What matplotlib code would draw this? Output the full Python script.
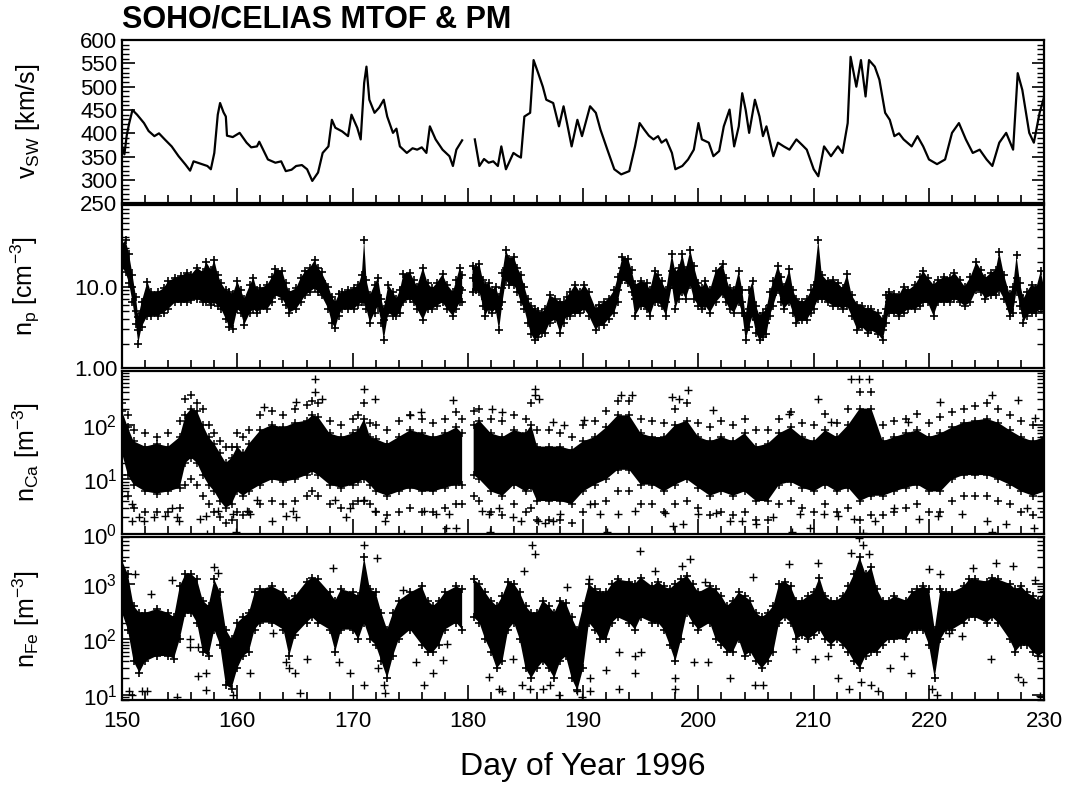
import numpy as np
import matplotlib.pyplot as plt
from matplotlib.ticker import MultipleLocator, LogLocator, FixedLocator, NullFormatter, FuncFormatter

plt.rcParams['font.family'] = ['Liberation Sans', 'DejaVu Sans']
plt.rcParams['mathtext.fontset'] = 'custom'
plt.rcParams['mathtext.rm'] = 'Liberation Sans'
plt.rcParams['mathtext.it'] = 'Liberation Sans'

nan = np.nan

# --- solar wind speed (km/s)
vsw_day = [150.0, 150.2, 150.4, 150.6, 150.9, 151.3, 151.9, 152.3, 152.8, 153.2,
           153.7, 154.3, 154.9, 155.5, 155.9, 156.2, 156.8, 157.4, 157.7, 158.0,
           158.3, 158.5, 158.8, 159.0, 159.1, 159.6, 160.2, 160.8, 161.2, 161.7,
           161.9, 162.65, 163.3, 163.8, 164.2, 164.7, 165.1, 165.6, 166.05, 166.5,
           167.0, 167.4, 167.9, 168.2, 168.5, 169.1, 169.6, 169.9, 170.4, 170.7,
           171.0, 171.2, 171.45, 171.9, 172.3, 172.7, 173.0, 173.5, 173.8, 174.1,
           174.7, 175.2, 175.6, 176.0, 176.4, 176.7, 177.2, 177.8, 178.4, 178.7,
           179.0, 179.5, 180.0, 180.6, 181.0, 181.4, 181.8, 182.2, 182.6, 182.9,
           183.3, 183.95, 184.3, 184.6, 184.9, 185.4, 185.7, 186.1, 186.5, 186.8,
           187.4, 187.9, 188.3, 188.6, 189.0, 189.5, 189.9, 190.6, 191.1, 191.5,
           192.1, 192.7, 193.3, 194.0, 194.5, 194.9, 195.3, 195.7, 196.1, 196.5,
           196.8, 197.2, 197.7, 198.0, 198.6, 199.1, 199.6, 200.0, 200.3, 200.9,
           201.3, 201.8, 202.2, 202.7, 203.1, 203.5, 203.8, 204.1, 204.4, 204.9,
           205.3, 205.6, 205.9, 206.5, 206.9, 207.4, 207.9, 208.5, 209.0, 209.4,
           210.0, 210.4, 210.9, 211.5, 212.1, 212.5, 212.95, 213.2, 213.7, 214.1,
           214.5, 214.8, 215.3, 215.7, 216.2, 216.6, 217.0, 217.4, 217.8, 218.5,
           219.0, 219.5, 220.0, 220.7, 221.4, 222.0, 222.6, 223.2, 223.8, 224.4,
           225.0, 225.5, 226.1, 226.7, 227.3, 227.7, 228.1, 228.7, 229.1, 229.6,
           230.0]
vsw = [372, 355, 395, 420, 450, 440, 422, 405, 394, 400,
       387, 372, 351, 333, 320, 340, 335, 330, 323, 358,
       440, 465, 445, 436, 395, 392, 401, 380, 370, 372,
       382, 344, 337, 340, 319, 322, 330, 332, 323, 298,
       316, 358, 372, 429, 412, 404, 394, 440, 412, 387,
       508, 543, 472, 444, 455, 472, 436, 401, 410, 372,
       358, 368, 365, 370, 358, 415, 387, 365, 351, 330,
       365, 385, nan, 387, 330, 345, 337, 340, 330, 372,
       323, 358, 352, 348, 436, 444, 557, 529, 500, 472,
       465, 415, 458, 422, 372, 429, 394, 458, 444, 408,
       365, 323, 312, 319, 372, 422, 408, 395, 387, 394,
       380, 387, 358, 323, 330, 344, 365, 422, 387, 380,
       351, 362, 415, 451, 372, 415, 486, 450, 401, 472,
       436, 394, 415, 351, 380, 372, 365, 387, 375, 365,
       323, 308, 372, 351, 372, 358, 422, 564, 500, 557,
       479, 557, 543, 515, 444, 429, 394, 400, 387, 372,
       394, 372, 344, 334, 344, 401, 422, 387, 358, 365,
       344, 330, 380, 401, 365, 529, 493, 401, 380, 444,
       479]

# --- proton density (cm^-3): low edge, middle, high edge of the band
np_day = [150.0, 150.3, 150.6, 150.9, 151.2, 151.4, 151.7, 152.2, 152.5, 153.1,
          153.6, 154.0, 154.6, 155.1, 155.6, 156.0, 156.5, 157.0, 157.3, 157.7,
          158.0, 158.3, 158.6, 159.0, 159.3, 159.6, 160.0, 160.3, 160.6, 161.1,
          161.4, 161.7, 162.0, 162.6, 163.0, 163.3, 163.9, 164.2, 164.5, 165.1,
          165.5, 165.9, 166.3, 166.7, 167.0, 167.3, 167.9, 168.2, 168.5, 168.8,
          169.1, 169.6, 170.1, 170.5, 170.8, 171.0, 171.2, 171.5, 171.9, 172.2,
          172.5, 172.7, 173.1, 173.5, 173.8, 174.1, 174.4, 175.0, 175.3, 175.6,
          176.1, 176.5, 176.9, 177.3, 177.8, 178.2, 178.7, 179.0, 179.3, 179.5,
          180.0, 180.4, 180.7, 181.0, 181.3, 181.5, 181.8, 182.1, 182.4, 182.7,
          183.0, 183.3, 183.6, 184.0, 184.3, 184.6, 184.9, 185.2, 185.5, 185.8,
          186.1, 186.4, 186.7, 187.1, 187.6, 188.0, 188.3, 188.6, 188.9, 189.3,
          189.7, 190.1, 190.5, 191.1, 191.4, 191.8, 192.2, 192.7, 193.0, 193.4,
          193.9, 194.2, 194.5, 195.0, 195.5, 195.8, 196.2, 196.5, 196.8, 197.2,
          197.7, 198.0, 198.3, 198.6, 198.9, 199.3, 199.6, 200.0, 200.3, 200.6,
          201.0, 201.5, 202.1, 202.4, 202.7, 203.1, 203.5, 203.8, 204.1, 204.4,
          204.7, 205.0, 205.3, 205.6, 205.9, 206.2, 206.5, 206.9, 207.2, 207.4,
          207.9, 208.2, 208.5, 209.0, 209.4, 209.8, 210.0, 210.4, 210.7, 211.2,
          211.7, 212.1, 212.5, 212.9, 213.3, 213.8, 214.2, 214.7, 215.0, 215.6,
          216.0, 216.3, 216.5, 217.0, 217.4, 217.8, 218.2, 218.8, 219.2, 219.5,
          219.9, 220.4, 220.8, 221.3, 221.8, 222.2, 222.7, 223.1, 223.6, 224.1,
          224.5, 224.9, 225.4, 225.8, 226.1, 226.5, 227.0, 227.3, 227.6, 227.9,
          228.2, 228.5, 228.9, 229.3, 229.7, 230.0]
np_lo = [17, 15, 11, 6.5, 3.5, 2.0, 3.2, 4.4, 4.4, 4.35,
         4.8, 5.3, 6.4, 6.4, 6.4, 6.8, 7.1, 6.4, 6.4, 6.0,
         6.4, 5.8, 5.3, 4.0, 3.2, 3.0, 5.3, 4.8, 3.4, 4.8,
         5.3, 4.8, 5.3, 5.3, 6.4, 7.8, 7.1, 6.0, 4.8, 5.3,
         6.4, 7.8, 8.6, 9.5, 8.6, 7.8, 5.3, 3.6, 3.1, 4.4,
         5.3, 5.3, 5.3, 6.0, 6.4, 6.4, 5.3, 3.6, 4.8, 5.8,
         3.6, 2.2, 4.8, 4.35, 4.35, 4.8, 6.4, 7.1, 6.4, 5.3,
         3.9, 5.3, 5.3, 5.8, 6.4, 5.3, 4.35, 5.3, 6.4, 6.4,
         nan, 8.6, 9.0, 8.6, 5.8, 4.35, 5.3, 4.8, 5.3, 2.9,
         6.4, 12.0, 10.5, 10.5, 8.6, 6.4, 5.3, 3.6, 2.6, 2.2,
         2.4, 2.7, 2.7, 3.6, 4.0, 2.7, 3.6, 4.4, 4.4, 4.8,
         4.8, 5.3, 4.4, 2.9, 3.4, 3.4, 4.0, 4.8, 6.4, 12.0,
         11.0, 8.6, 4.35, 5.8, 5.3, 4.4, 6.4, 6.4, 5.8, 4.35,
         10.5, 5.3, 7.1, 8.6, 7.1, 10.5, 7.1, 5.8, 5.3, 5.8,
         4.8, 6.4, 8.0, 6.4, 5.3, 4.8, 6.4, 4.8, 2.2, 3.2,
         4.4, 2.7, 2.2, 2.4, 2.6, 4.4, 5.8, 9.0, 6.4, 5.3,
         6.4, 4.8, 3.6, 3.9, 3.9, 4.8, 5.3, 7.1, 7.1, 6.4,
         5.8, 5.8, 5.3, 5.8, 4.35, 2.9, 3.2, 2.7, 2.9, 2.6,
         2.2, 3.6, 4.8, 4.8, 4.35, 4.8, 5.3, 5.3, 5.8, 6.4,
         6.4, 4.35, 6.4, 6.4, 6.4, 7.1, 6.4, 5.8, 6.4, 9.0,
         8.6, 7.1, 7.8, 7.8, 9.0, 7.1, 4.35, 4.8, 9.0, 5.8,
         3.6, 4.4, 4.8, 4.8, 5.3, 4.8]
np_mid = [23, 22, 16, 10, 5.0, 2.9, 4.8, 6.4, 6.2, 6.4,
          7.0, 7.8, 8.6, 9.0, 9.5, 10.0, 10.5, 10.0, 10.5, 9.5,
          10.5, 8.5, 7.8, 6.0, 5.8, 5.3, 7.1, 6.4, 5.3, 7.1,
          7.8, 6.4, 7.1, 7.8, 9.0, 11.6, 10.5, 8.0, 6.4, 7.1,
          9.0, 11.6, 12.0, 14.1, 12.8, 11.6, 7.8, 5.3, 4.8, 6.0,
          6.4, 7.1, 7.1, 7.8, 8.6, 9.0, 7.8, 5.8, 7.1, 7.8,
          5.0, 3.9, 6.4, 6.0, 5.3, 6.4, 9.5, 10.5, 9.0, 7.1,
          9.5, 7.8, 7.1, 8.0, 8.6, 7.8, 6.4, 7.8, 9.5, 9.0,
          nan, 12.8, 12.0, 12.8, 8.6, 7.1, 8.0, 6.4, 7.1, 5.3,
          9.5, 17.1, 15, 15.5, 12.0, 10.5, 7.1, 5.3, 4.0, 3.9,
          3.6, 3.4, 3.6, 5.3, 5.3, 3.9, 4.8, 5.8, 5.8, 6.4,
          6.4, 7.1, 6.0, 3.9, 4.5, 4.35, 5.3, 6.4, 9.0, 17.1,
          15.5, 11.6, 7.1, 8.6, 7.8, 6.4, 9.5, 9.0, 8.6, 6.4,
          15.5, 9.5, 11.0, 14.1, 11.0, 17.1, 11.6, 7.8, 7.1, 7.8,
          6.4, 9.5, 11.6, 9.0, 7.1, 6.4, 8.6, 6.4, 2.9, 5.3,
          6.4, 3.9, 3.2, 3.4, 3.6, 6.0, 7.8, 11.6, 9.0, 7.1,
          8.6, 6.4, 5.3, 5.0, 5.3, 6.4, 7.1, 10.5, 9.5, 8.6,
          8.0, 7.8, 7.1, 7.8, 5.8, 4.35, 4.35, 3.6, 3.9, 3.4,
          2.9, 5.3, 6.4, 6.0, 5.3, 6.4, 6.4, 7.8, 8.6, 9.5,
          9.0, 7.8, 8.6, 9.5, 9.0, 9.5, 8.6, 7.1, 8.6, 12.8,
          11.6, 9.5, 10.5, 11.0, 12.8, 10.0, 5.3, 6.4, 12.8, 7.8,
          4.8, 5.8, 7.1, 6.4, 7.8, 6.4]
np_hi = [33, 37, 25, 14, 7.5, 4.2, 6.5, 11.5, 8.5, 8.6,
         9.5, 11.6, 12.8, 13.5, 14.8, 14.0, 17, 15, 20, 16,
         21, 14, 11, 9.0, 8.6, 8.0, 11.6, 9.0, 7.1, 10.5,
         12.8, 9.0, 9.5, 10.5, 13, 16.3, 15.5, 11, 8.6, 9.5,
         12.8, 15.5, 17, 20.9, 17, 15, 10, 7.5, 6.4, 8,
         8.6, 9.0, 9.5, 10.5, 14, 37.5, 12, 7.8, 10.5, 12.8,
         7.0, 5.3, 10.5, 8.6, 7.1, 9, 14.1, 14.8, 12, 10,
         17.1, 11, 9.5, 11, 14.1, 10.5, 8.6, 12, 17.1, 14,
         nan, 18, 17, 18.9, 12, 10.5, 11, 9.0, 10, 7.5,
         14.8, 27.9, 22, 23, 17, 14, 10, 7.1, 5.8, 5.3,
         5.0, 4.8, 5.3, 7.8, 7.1, 6.4, 6.4, 7.5, 8.6, 10.5,
         8.6, 10.5, 8.6, 5.3, 6.0, 6.4, 7.1, 9.0, 13, 23,
         22, 16, 10.5, 11.6, 11, 9.0, 15.5, 14, 11.6, 9.0,
         25, 15, 17, 25, 16, 28, 18, 11, 9.5, 11.6,
         9.0, 15.5, 18.9, 12.8, 9.5, 9.0, 15.5, 9.0, 4.35, 9.0,
         11.6, 5.8, 4.4, 4.8, 5.3, 8.6, 11.6, 18, 13, 10,
         16.3, 9.0, 7.1, 6.4, 7.1, 9.0, 10.5, 37.5, 14, 11.6,
         12, 11, 9.5, 14.1, 7.8, 6.0, 5.8, 5.3, 5.3, 4.8,
         4.0, 7.8, 8.6, 8.0, 7.8, 10, 9.0, 10.5, 13, 15.5,
         12.8, 10.5, 12, 13, 12.8, 14.8, 12, 10, 13, 19.9,
         16, 12.8, 14.8, 16, 26.6, 14, 8.0, 10, 24, 11,
         7.1, 8.6, 10.5, 9.5, 15.5, 9.5]

# --- Ca density (m^-3): dense core, sparser upper/lower scatter, isolated points
ca_day = [150.0, 150.5, 151.0, 152.0, 153.0, 154.0, 155.0, 155.5, 156.0, 156.5,
          157.0, 157.5, 158.0, 158.5, 159.0, 159.5, 160.0, 160.5, 161.0, 162.0,
          163.0, 164.0, 165.0, 166.0, 166.5, 167.0, 168.0, 169.0, 170.0, 170.5,
          171.0, 171.5, 172.0, 173.0, 174.0, 175.0, 176.0, 177.0, 178.0, 179.0,
          179.5, 180.0, 180.5, 181.0, 182.0, 183.0, 184.0, 185.0, 185.5, 186.0,
          187.0, 188.0, 189.0, 190.0, 191.0, 192.0, 193.0, 194.0, 195.0, 196.0,
          197.0, 198.0, 199.0, 200.0, 201.0, 202.0, 203.0, 204.0, 205.0, 206.0,
          207.0, 208.0, 209.0, 210.0, 211.0, 212.0, 213.0, 214.0, 215.0, 216.0,
          217.0, 218.0, 219.0, 220.0, 221.0, 222.0, 223.0, 224.0, 225.0, 226.0,
          227.0, 228.0, 229.0, 230.0]
ca_lo = [30, 12, 8, 6, 5.5, 6, 7, 20, 25, 20,
         12, 8, 6, 4, 3, 3.5, 6, 5, 6, 8,
         10, 9, 10, 12, 14, 12, 8, 7, 8, 9,
         10, 8, 6, 5, 6, 7, 6, 6, 7, 8,
         8, nan, 12, 10, 6, 5, 8, 6, 7, 4,
         4, 4, 3.5, 6, 8, 10, 15, 15, 8, 8,
         6, 8, 10, 7, 5, 6, 5, 6, 4, 4,
         8, 9, 7, 6, 8, 6, 7, 4, 5, 5,
         6, 7, 8, 6, 6, 10, 12, 12, 12, 10,
         8, 6, 5, 6]
ca_hi = [180, 90, 50, 40, 45, 40, 60, 150, 200, 180,
         100, 60, 45, 30, 20, 25, 40, 30, 45, 80,
         100, 90, 110, 120, 150, 140, 70, 60, 70, 80,
         130, 60, 55, 45, 60, 80, 70, 60, 70, 90,
         70, nan, 100, 120, 70, 60, 80, 70, 100, 40,
         40, 40, 35, 50, 60, 90, 150, 150, 70, 60,
         60, 100, 120, 60, 50, 60, 50, 70, 40, 45,
         70, 90, 60, 50, 80, 60, 100, 200, 200, 50,
         60, 70, 80, 60, 70, 90, 110, 120, 130, 110,
         80, 60, 50, 60]
ca_up = [250, 150, 80, 70, 60, 70, 120, 300, 350, 250,
         200, 100, 70, 50, 40, 40, 70, 60, 80, 150,
         180, 150, 200, 230, 280, 250, 120, 100, 130, 150,
         250, 110, 100, 80, 120, 150, 130, 110, 130, 170,
         130, nan, 180, 200, 130, 120, 150, 130, 250, 80,
         80, 70, 60, 100, 120, 180, 280, 280, 130, 120,
         110, 200, 250, 110, 90, 120, 100, 130, 80, 80,
         130, 170, 110, 100, 160, 110, 200, 400, 400, 100,
         120, 130, 160, 110, 140, 170, 200, 220, 250, 200,
         150, 120, 100, 120]
ca_dn = [12, 5, 3, 2.5, 2.5, 2.5, 3, 8, 10, 8,
         5, 3.5, 2.5, 2, 1.6, 1.8, 2.5, 2.2, 2.5, 3.5,
         4, 3.5, 4, 5, 6, 5, 3.5, 3, 3.5, 4,
         4, 3.5, 2.5, 2.2, 2.5, 3, 2.5, 2.5, 3, 3.5,
         3.5, nan, 5, 4, 2.5, 2.2, 3.5, 2.5, 3, 1.8,
         1.8, 1.8, 1.6, 2.5, 3.5, 4, 6, 6, 3.5, 3.5,
         2.5, 3.5, 4, 3, 2.2, 2.5, 2.2, 2.5, 1.8, 1.8,
         3.5, 4, 3, 2.5, 3.5, 2.5, 3, 1.8, 2.2, 2.2,
         2.5, 3, 3.5, 2.5, 2.5, 4, 5, 5, 5, 4,
         3.5, 2.5, 2.2, 2.5]
ca_out_day = [150.9, 151.5, 150.9, 151.9, 152.8, 153.7, 154.8, 154.9, 154.3, 156.8,
              157.3, 157.4, 158.3, 159.6, 159.9, 160.8, 161.1, 161.7, 163.0, 164.2,
              165.1, 164.8, 162.3, 165.1, 166.7, 166.7, 167.3, 168.5, 169.4, 169.8,
              171.0, 171.9, 171.0, 171.9, 172.8, 174.5, 175.0, 175.9, 176.2, 177.2,
              178.1, 178.7, 179.0, 178.4, 181.2, 181.8, 181.9, 182.1, 183.0, 184.6,
              183.9, 185.8, 185.8, 186.1, 182.7, 186.2, 187.4, 188.3, 190.1, 193.3,
              194.2, 197.7, 199.1, 198.3, 201.3, 207.9, 210.4, 211.5, 213.2, 213.9,
              214.8, 218.2, 221.0, 225.5, 227.7, 229.2, 186.7, 187.4, 188.0, 190.6,
              191.5, 192.1, 193.0, 194.5, 197.1, 197.8, 198.7, 200.0, 201.5, 202.7,
              203.8, 205.0, 206.5, 208.1, 208.8, 209.7, 210.9, 212.1, 213.5, 214.3,
              215.3, 217.0, 219.1, 220.8, 222.9, 225.0, 225.5, 226.7, 228.5, 229.1]
ca_out = [3.5, 2.0, 1.7, 1.7, 2.0, 2.1, 2.0, 1.7, 3.0, 1.9,
          2.1, 1.0, 2.6, 2.3, 1.1, 2.6, 2.3, 4.1, 1.7, 2.1,
          2.0, 2.6, 215, 265, 700, 400, 305, 4.1, 2.0, 3.0,
          465, 305, 4.1, 2.6, 1.7, 1.0, 150, 175, 2.6, 2.3,
          1.3, 285, 1.3, 2.3, 2.6, 2.3, 1.1, 200, 175, 1.7,
          2.0, 465, 350, 1.7, 3.0, 305, 115, 100, 125, 350,
          350, 330, 430, 305, 190, 160, 305, 115, 700, 700,
          700, 115, 265, 350, 285, 132, 1.6, 1.7, 2.3, 3.5,
          2.3, 1.1, 2.3, 2.6, 2.4, 1.4, 1.5, 2.3, 2.4, 1.7,
          1.7, 1.5, 2.0, 1.1, 2.3, 1.3, 2.3, 2.1, 1.9, 1.05,
          1.7, 3.0, 1.9, 2.1, 2.3, 1.7, 1.1, 1.5, 3.0, 1.3]

# --- Fe density (m^-3): dense core of the scatter, plus isolated points
fe_day = [150.0, 150.5, 151.0, 151.5, 152.0, 153.0, 154.0, 154.5, 155.0, 155.5,
          156.0, 156.5, 157.0, 157.5, 158.0, 158.5, 159.0, 159.5, 160.0, 160.5,
          161.0, 161.5, 162.0, 163.0, 164.0, 164.5, 165.0, 166.0, 166.5, 167.0,
          168.0, 168.5, 169.0, 170.0, 170.5, 171.0, 171.5, 172.0, 172.5, 173.0,
          173.5, 174.0, 175.0, 176.0, 176.5, 177.0, 177.5, 178.0, 179.0, 179.5,
          180.0, 180.5, 181.0, 181.5, 182.0, 182.5, 183.0, 183.5, 184.0, 184.5,
          185.0, 185.5, 186.0, 186.5, 187.0, 187.5, 188.0, 188.5, 189.0, 189.5,
          190.0, 190.5, 191.0, 191.5, 192.0, 192.5, 193.0, 194.0, 194.5, 195.0,
          196.0, 196.5, 197.0, 197.5, 198.0, 198.5, 199.0, 199.5, 200.0, 201.0,
          201.5, 202.0, 202.5, 203.0, 203.5, 204.0, 204.5, 205.0, 205.5, 206.0,
          206.5, 207.0, 207.5, 208.0, 208.5, 209.0, 209.5, 210.0, 210.5, 211.0,
          211.5, 212.0, 212.5, 213.0, 213.5, 214.0, 214.5, 215.0, 215.5, 216.0,
          216.5, 217.0, 218.0, 218.5, 219.0, 219.5, 220.0, 220.5, 221.0, 221.5,
          222.0, 223.0, 223.5, 224.0, 225.0, 225.5, 226.0, 227.0, 227.5, 228.0,
          228.5, 229.0, 229.5, 230.0]
fe_lo = [300, 150, 40, 25, 40, 50, 50, 45, 100, 300,
         300, 200, 60, 50, 150, 80, 15, 13, 30, 50,
         60, 150, 200, 200, 150, 50, 120, 200, 250, 200,
         150, 60, 150, 150, 100, 200, 100, 80, 40, 20,
         50, 100, 150, 80, 60, 60, 80, 150, 200, 150,
         nan, 250, 200, 100, 60, 30, 40, 150, 200, 100,
         30, 20, 30, 40, 30, 20, 40, 50, 20, 12,
         30, 200, 150, 100, 100, 200, 250, 200, 150, 250,
         200, 200, 150, 80, 40, 100, 300, 200, 150, 200,
         100, 80, 60, 60, 100, 50, 60, 40, 30, 40,
         60, 200, 250, 200, 100, 120, 100, 120, 150, 100,
         80, 100, 80, 60, 40, 30, 50, 60, 60, 80,
         100, 100, 100, 150, 150, 150, 80, 20, 100, 150,
         150, 200, 250, 250, 200, 250, 200, 100, 60, 80,
         80, 60, 50, 60]
fe_hi = [2600, 1500, 400, 300, 300, 350, 300, 250, 900, 1500,
         1500, 1200, 500, 400, 1200, 700, 150, 100, 200, 250,
         300, 700, 800, 900, 700, 500, 600, 1100, 1300, 1200,
         700, 500, 800, 700, 600, 3000, 800, 700, 300, 150,
         300, 500, 700, 900, 500, 400, 500, 700, 900, 800,
         nan, 1200, 1000, 700, 500, 400, 600, 1100, 1000, 700,
         400, 300, 300, 500, 400, 300, 500, 450, 250, 150,
         400, 1000, 800, 700, 700, 1000, 1200, 1100, 1000, 1300,
         900, 1100, 900, 800, 1000, 1200, 1400, 1000, 700, 900,
         800, 600, 400, 500, 700, 600, 500, 300, 250, 300,
         400, 1000, 1100, 900, 500, 500, 600, 700, 1300, 600,
         500, 500, 600, 900, 1500, 3000, 1500, 2000, 800, 500,
         500, 600, 500, 700, 800, 900, 800, 150, 800, 700,
         700, 900, 1200, 1200, 1100, 1300, 1200, 1000, 800, 900,
         700, 600, 500, 700]
fe_out_day = [151.1, 150.6, 150.9, 151.7, 152.2, 152.5, 154.3, 154.8, 155.9, 155.9,
              156.6, 156.6, 157.3, 157.3, 158.0, 158.3, 159.6, 161.1, 163.1, 164.2,
              164.5, 165.0, 165.4, 166.0, 168.3, 168.8, 169.8, 171.0, 171.0, 172.1,
              172.2, 172.7, 172.8, 174.4, 175.5, 176.2, 177.0, 177.8, 178.2, 181.8,
              182.7, 183.0, 183.9, 184.9, 185.6, 185.8, 184.7, 185.4, 186.5, 187.1,
              187.9, 188.6, 189.5, 189.9, 190.5, 190.6, 190.6, 192.0, 193.1, 193.1,
              194.5, 194.5, 194.9, 195.0, 196.2, 198.0, 198.0, 198.6, 199.3, 199.6,
              200.6, 200.8, 202.7, 204.7, 204.9, 205.6, 207.9, 208.5, 210.1, 210.4,
              211.2, 212.1, 213.1, 213.2, 213.9, 214.3, 214.8, 214.1, 215.0, 215.6,
              216.6, 217.8, 218.4, 220.0, 220.3, 220.7, 221.0, 221.7, 222.9, 223.8,
              225.4, 225.8, 227.3, 227.7, 228.2, 229.2, 229.6]
fe_out = [1500, 11.5, 10, 11.5, 11.5, 665, 1150, 9, 100, 72,
          72, 22, 25, 12, 2000, 1600, 10, 25, 130, 39,
          30, 25, 11, 45, 1960, 39, 25, 15, 5100, 2900,
          30, 15, 11, 760, 39, 15, 25, 42, 82, 21,
          13, 11.5, 45, 1720, 5100, 3400, 15, 13, 13, 15,
          10, 870, 11.5, 9, 1240, 20, 11.5, 28, 13, 58,
          51, 25, 3900, 58, 1720, 20, 13, 2100, 2760, 39,
          1070, 39, 20, 1310, 15, 15, 2250, 66, 45, 2400,
          51, 20, 13, 3600, 6700, 5100, 3400, 17, 15, 11.5,
          30, 51, 25, 1840, 13, 10, 1500, 130, 115, 1960,
          45, 2400, 2100, 21, 17, 1150, 9.5]

assert len(vsw_day) == len(vsw)
assert len(np_day) == len(np_lo) == len(np_mid) == len(np_hi)
assert len(ca_day) == len(ca_lo) == len(ca_hi) == len(ca_up) == len(ca_dn)
assert len(fe_day) == len(fe_lo) == len(fe_hi)
assert len(ca_out_day) == len(ca_out) and len(fe_out_day) == len(fe_out)

fig = plt.figure(figsize=(10.71, 7.85), dpi=100)
left, right = 0.114, 0.975
tops = [0.949, 0.739, 0.528, 0.316]
h = 0.208
axes = [fig.add_axes([left, t - h, right - left, h]) for t in tops]

ms = 6
# panel 1: solar wind speed
ax = axes[0]
ax.plot(vsw_day, vsw, color='black', lw=1.6)
ax.set_ylim(250, 600)
ax.yaxis.set_major_locator(MultipleLocator(50))
ax.yaxis.set_minor_locator(MultipleLocator(10))
ax.set_ylabel(r'$\mathregular{v_{SW}}$ [km/s]', fontsize=18)

# panel 2: proton density
ax = axes[1]
ax.set_yscale('log')
ax.fill_between(np_day, np_lo, np_hi, color='black', lw=0)
for arr in (np_lo, np_mid, np_hi):
    ax.plot(np_day, arr, '+', color='black', ms=ms, mew=1.2)
ax.set_ylim(1, 100)
ax.yaxis.set_major_locator(FixedLocator([1, 10]))
ax.yaxis.set_major_formatter(FuncFormatter(lambda v, p: {1: '1.00', 10: '10.0'}.get(round(v), '')))
ax.set_ylabel(r'$\mathregular{n_p}$ [cm$\mathregular{^{-3}}$]', fontsize=18)

# panel 3: Ca
ax = axes[2]
ax.set_yscale('log')
ax.fill_between(ca_day, ca_lo, ca_hi, color='black', lw=0)
for arr in (ca_lo, ca_hi, ca_up, ca_dn):
    ax.plot(ca_day, arr, '+', color='black', ms=ms, mew=1.1)
ax.plot(ca_out_day, ca_out, '+', color='black', ms=ms, mew=1.0)
ax.set_ylim(1, 1000)
ax.yaxis.set_major_locator(FixedLocator([1, 10, 100]))
ax.set_ylabel(r'$\mathregular{n_{Ca}}$ [m$\mathregular{^{-3}}$]', fontsize=18)

# panel 4: Fe
ax = axes[3]
ax.set_yscale('log')
ax.fill_between(fe_day, fe_lo, fe_hi, color='black', lw=0)
for arr in (fe_lo, fe_hi):
    ax.plot(fe_day, arr, '+', color='black', ms=ms, mew=1.2)
ax.plot(fe_out_day, fe_out, '+', color='black', ms=ms, mew=1.0)
ax.set_ylim(8, 7000)
ax.yaxis.set_major_locator(FixedLocator([10, 100, 1000]))
ax.set_ylabel(r'$\mathregular{n_{Fe}}$ [m$\mathregular{^{-3}}$]', fontsize=18)
ax.set_xlabel('Day of Year 1996', fontsize=23, labelpad=14)

for i, ax in enumerate(axes):
    ax.set_xlim(150, 230)
    ax.xaxis.set_major_locator(MultipleLocator(10))
    ax.xaxis.set_minor_locator(MultipleLocator(2))
    if ax.get_yscale() == 'log':
        ax.yaxis.set_minor_locator(LogLocator(base=10, subs=np.arange(2, 10), numticks=20))
        ax.yaxis.set_minor_formatter(NullFormatter())
    ax.tick_params(axis='x', which='major', direction='in', length=11, width=1.2,
                   top=False, bottom=True, labelsize=16, pad=8)
    ax.tick_params(axis='x', which='minor', direction='in', length=6, width=1.2,
                   top=False, bottom=True)
    ax.tick_params(axis='y', which='major', direction='in', length=9, width=1.2,
                   left=True, right=True, labelsize=16)
    ax.tick_params(axis='y', which='minor', direction='in', length=5, width=1.0,
                   left=True, right=True)
    if i < 3:
        ax.tick_params(axis='x', labelbottom=False)
    for s in ax.spines.values():
        s.set_linewidth(1.6)
    ax.yaxis.set_label_coords(-0.087, 0.5)

fig.text(left, 0.975, 'SOHO/CELIAS MTOF & PM', fontsize=22, fontweight='bold',
         ha='left', va='center')

fig.savefig('out.png', dpi=100)
